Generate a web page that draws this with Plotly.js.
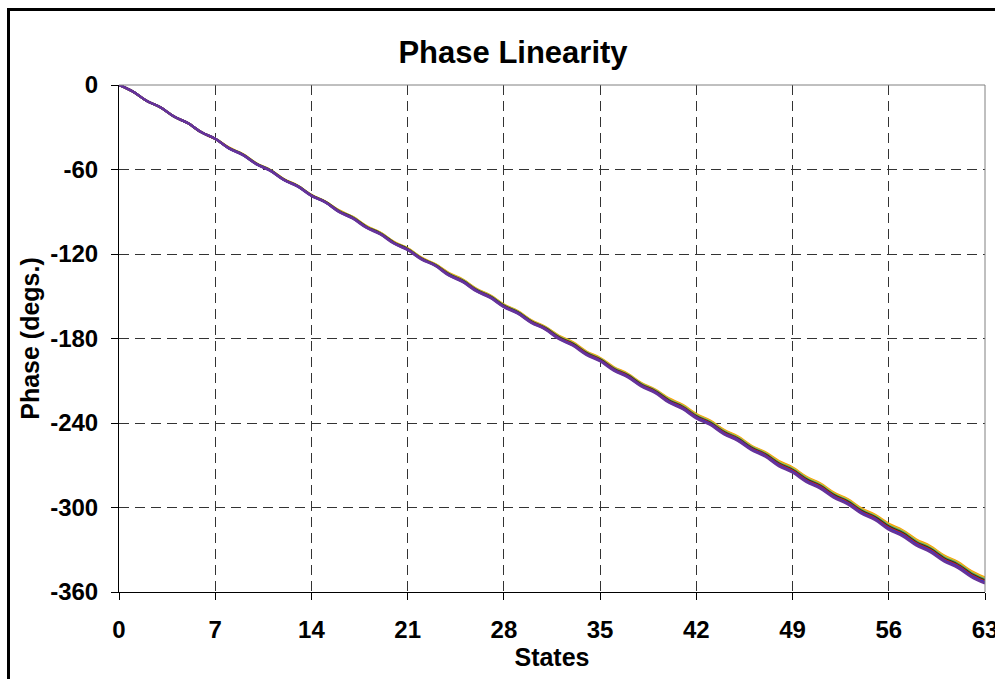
<!DOCTYPE html>
<html>
<head>
<meta charset="utf-8">
<script src="https://cdn.plot.ly/plotly-3.0.1.min.js"></script>
<style>
  html, body { margin: 0; padding: 0; overflow: hidden; background: #fff; }
  #chart { position: absolute; left: 0; top: 0; width: 995px; height: 679px; }
  #frame { position: absolute; left: 7px; top: 8px; width: 2000px; height: 2000px;
           border-left: 3px solid #000; border-top: 3px solid #000; pointer-events: none; }
</style>
</head>
<body>
<div id="chart"></div>
<div id="frame"></div>
<script>
// States 0..63
const states = Array.from({length: 64}, (_, i) => i);

// Phase (degs.) per state, one array per trace
const phaseOrange = [
  0,-4.6,-11.2,-15.8,-22.4,-27.0,-33.6,-38.2,
  -44.5,-49.1,-55.7,-60.3,-66.9,-71.5,-78.1,-82.7,
  -89.0,-93.6,-100.2,-104.8,-111.4,-116.0,-122.6,-127.2,
  -133.5,-138.1,-144.7,-149.3,-155.9,-160.5,-167.1,-171.7,
  -178.0,-182.6,-189.2,-193.8,-200.4,-205.0,-211.6,-216.2,
  -222.5,-227.1,-233.7,-238.3,-244.9,-249.5,-256.1,-260.7,
  -267.0,-271.6,-278.2,-282.8,-289.4,-294.0,-300.6,-305.2,
  -311.5,-316.1,-322.7,-327.3,-333.9,-338.5,-345.1,-349.7];
const phaseOlive = [
  0,-4.6,-11.2,-15.8,-22.4,-27.0,-33.6,-38.2,
  -44.6,-49.2,-55.8,-60.4,-67.0,-71.6,-78.2,-82.8,
  -89.2,-93.8,-100.4,-105.0,-111.6,-116.2,-122.8,-127.4,
  -133.8,-138.4,-145.0,-149.6,-156.2,-160.8,-167.4,-172.0,
  -178.4,-183.0,-189.6,-194.2,-200.8,-205.4,-212.0,-216.6,
  -223.0,-227.6,-234.2,-238.8,-245.4,-250.0,-256.6,-261.2,
  -267.6,-272.2,-278.8,-283.4,-290.0,-294.6,-301.2,-305.8,
  -312.2,-316.8,-323.4,-328.0,-334.6,-339.2,-345.8,-350.4];
const phaseGreen = [
  0,-4.6,-11.2,-15.8,-22.4,-27.0,-33.6,-38.2,
  -44.7,-49.3,-55.9,-60.5,-67.1,-71.7,-78.3,-82.9,
  -89.4,-94.0,-100.6,-105.2,-111.8,-116.4,-123.0,-127.6,
  -134.1,-138.7,-145.3,-149.9,-156.5,-161.1,-167.7,-172.3,
  -178.8,-183.4,-190.0,-194.6,-201.2,-205.8,-212.4,-217.0,
  -223.5,-228.1,-234.7,-239.3,-245.9,-250.5,-257.1,-261.7,
  -268.2,-272.8,-279.4,-284.0,-290.6,-295.2,-301.8,-306.4,
  -312.9,-317.5,-324.1,-328.7,-335.3,-339.9,-346.5,-351.1];
const phaseBlack = [
  0,-4.6,-11.2,-15.8,-22.4,-27.0,-33.6,-38.2,
  -44.8,-49.4,-56.0,-60.6,-67.2,-71.8,-78.4,-83.0,
  -89.6,-94.2,-100.8,-105.4,-112.0,-116.6,-123.2,-127.8,
  -134.4,-139.0,-145.6,-150.2,-156.8,-161.4,-168.0,-172.6,
  -179.2,-183.8,-190.4,-195.0,-201.6,-206.2,-212.8,-217.4,
  -224.0,-228.6,-235.2,-239.8,-246.4,-251.0,-257.6,-262.2,
  -268.8,-273.4,-280.0,-284.6,-291.2,-295.8,-302.4,-307.0,
  -313.6,-318.2,-324.8,-329.4,-336.0,-340.6,-347.2,-351.8];
const phaseRed = [
  0,-4.6,-11.2,-15.8,-22.4,-27.0,-33.6,-38.2,
  -44.9,-49.5,-56.1,-60.7,-67.3,-71.9,-78.5,-83.1,
  -89.8,-94.4,-101.0,-105.6,-112.2,-116.8,-123.4,-128.0,
  -134.7,-139.3,-145.9,-150.5,-157.1,-161.7,-168.3,-172.9,
  -179.6,-184.2,-190.8,-195.4,-202.0,-206.6,-213.2,-217.8,
  -224.5,-229.1,-235.7,-240.3,-246.9,-251.5,-258.1,-262.7,
  -269.4,-274.0,-280.6,-285.2,-291.8,-296.4,-303.0,-307.6,
  -314.3,-318.9,-325.5,-330.1,-336.7,-341.3,-347.9,-352.5];
const phaseBlue = [
  0,-4.6,-11.2,-15.8,-22.4,-27.0,-33.6,-38.2,
  -45.0,-49.6,-56.2,-60.8,-67.4,-72.0,-78.6,-83.2,
  -90.0,-94.6,-101.2,-105.8,-112.4,-117.0,-123.6,-128.2,
  -135.0,-139.6,-146.2,-150.8,-157.4,-162.0,-168.6,-173.2,
  -180.0,-184.6,-191.2,-195.8,-202.4,-207.0,-213.6,-218.2,
  -225.0,-229.6,-236.2,-240.8,-247.4,-252.0,-258.6,-263.2,
  -270.0,-274.6,-281.2,-285.8,-292.4,-297.0,-303.6,-308.2,
  -315.0,-319.6,-326.2,-330.8,-337.4,-342.0,-348.6,-353.2];
const phasePurple = [
  0,-4.6,-11.2,-15.8,-22.4,-27.0,-33.6,-38.2,
  -45.1,-49.7,-56.3,-60.9,-67.5,-72.1,-78.7,-83.3,
  -90.2,-94.8,-101.4,-106.0,-112.6,-117.2,-123.8,-128.4,
  -135.3,-139.9,-146.5,-151.1,-157.7,-162.3,-168.9,-173.5,
  -180.4,-185.0,-191.6,-196.2,-202.8,-207.4,-214.0,-218.6,
  -225.5,-230.1,-236.7,-241.3,-247.9,-252.5,-259.1,-263.7,
  -270.6,-275.2,-281.8,-286.4,-293.0,-297.6,-304.2,-308.8,
  -315.7,-320.3,-326.9,-331.5,-338.1,-342.7,-349.3,-353.9];

const xTickVals = [0, 7, 14, 21, 28, 35, 42, 49, 56, 63];
const yTickVals = [0, -60, -120, -180, -240, -300, -360];

const series = [
  {y: phaseOrange, color: '#FF9900'},
  {y: phaseOlive,  color: '#CCCC33'},
  {y: phaseGreen,  color: '#669966'},
  {y: phaseBlack,  color: '#1a3a1a'},
  {y: phaseRed,    color: '#CC2222'},
  {y: phaseBlue,   color: '#3333CC'},
  {y: phasePurple, color: '#663399'}
];

const traces = series.map(s => ({
  x: states, y: s.y, type: 'scatter', mode: 'lines',
  line: {color: s.color, width: 2.4, shape: 'spline', smoothing: 1},
  hoverinfo: 'skip', showlegend: false
}));

const font = 'Arial, "Liberation Sans", sans-serif';

const layout = {
  width: 995, height: 679,
  paper_bgcolor: '#ffffff', plot_bgcolor: '#ffffff',
  margin: {l: 119, r: 10, t: 85, b: 87},
  showlegend: false,
  title: {
    text: 'Phase Linearity',
    font: {family: font, size: 31, color: '#000', weight: 'bold'},
    x: 0.5156, xref: 'container', xanchor: 'center',
    y: 1 - 52 / 679, yref: 'container', yanchor: 'middle'
  },
  xaxis: {
    range: [0, 63], tickvals: xTickVals, ticktext: xTickVals.map(String),
    showgrid: true, gridcolor: '#333333', gridwidth: 1, griddash: '10px,6px',
    zeroline: false, showline: true, linecolor: '#000', linewidth: 1,
    ticks: 'outside', ticklen: 7, tickcolor: '#000', tickwidth: 1,
    ticklabelstandoff: 9, ticklabeloverflow: 'allow',
    tickfont: {family: font, size: 24, color: '#000', weight: 'bold'},
    title: {text: 'States', standoff: 6,
            font: {family: font, size: 25, color: '#000', weight: 'bold'}},
    fixedrange: true
  },
  yaxis: {
    range: [-360, 0], tickvals: yTickVals, ticktext: yTickVals.map(String),
    showgrid: true, gridcolor: '#333333', gridwidth: 1, griddash: '10px,6px',
    zeroline: false, showline: true, linecolor: '#000', linewidth: 1,
    ticks: 'outside', ticklen: 7, tickcolor: '#000', tickwidth: 1,
    ticklabelstandoff: 8, ticklabeloverflow: 'allow',
    tickfont: {family: font, size: 24, color: '#000', weight: 'bold'},
    title: {text: 'Phase (degs.)', standoff: 3,
            font: {family: font, size: 25, color: '#000', weight: 'bold'}},
    fixedrange: true
  },
  shapes: [
    {type: 'line', xref: 'paper', yref: 'paper', x0: 0, x1: 1, y0: 1, y1: 1,
     line: {color: '#808080', width: 1}, layer: 'above'},
    {type: 'line', xref: 'paper', yref: 'paper', x0: 1, x1: 1, y0: 0, y1: 1,
     line: {color: '#808080', width: 1}, layer: 'above'}
  ]
};

Plotly.newPlot('chart', traces, layout, {displayModeBar: false, staticPlot: true});
</script>
</body>
</html>
